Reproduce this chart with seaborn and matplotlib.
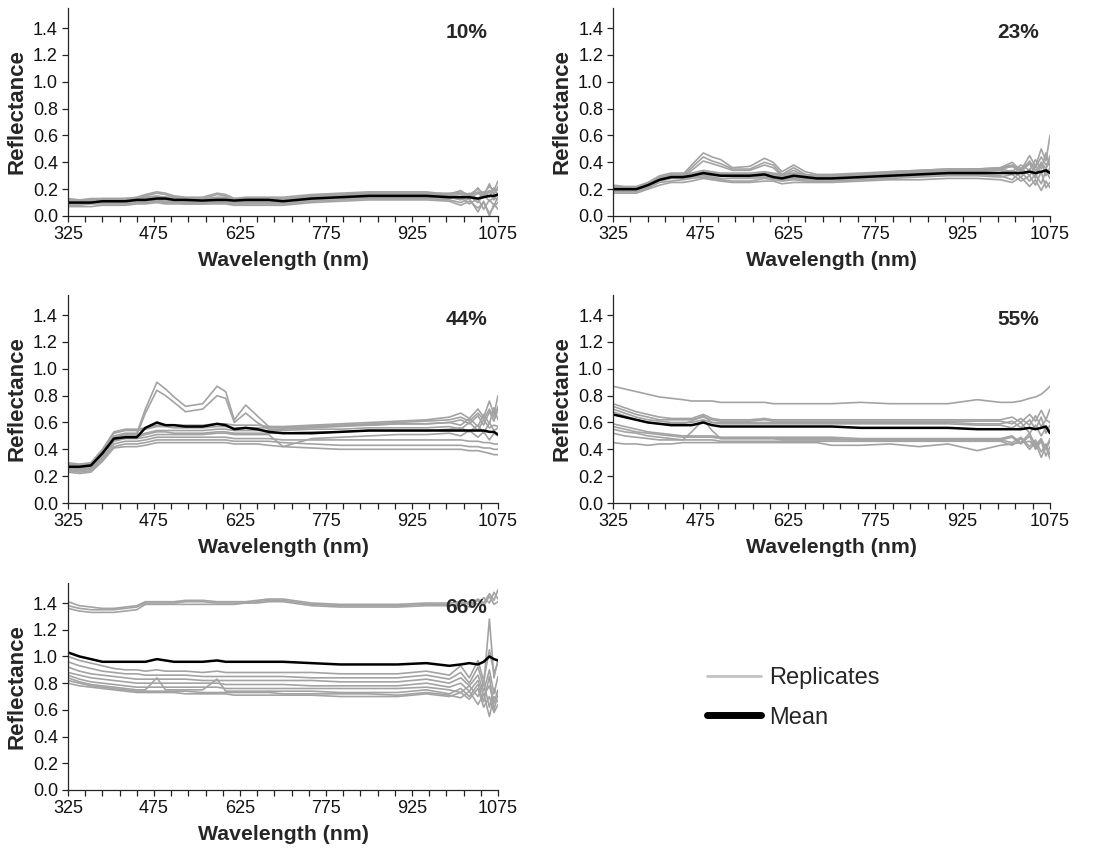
import matplotlib
matplotlib.use("Agg")
import matplotlib.pyplot as plt
import numpy as np
import pandas as pd
import seaborn as sns
from matplotlib.lines import Line2D
from matplotlib.ticker import FixedLocator, FormatStrFormatter

# ---------------- data ----------------
WAVELENGTH = [325, 345, 365, 385, 405, 425, 445, 460, 480, 495, 510, 530, 560, 585, 600,
              615, 635, 655, 675, 700, 750, 800, 850, 900, 950, 990, 1010, 1025, 1040,
              1050, 1060, 1068, 1075]

PANEL_LABELS = ["10%", "23%", "44%", "55%", "66%"]
XTICKS = [325, 475, 625, 775, 925, 1075]
YTICKS = [0.0, 0.2, 0.4, 0.6, 0.8, 1.0, 1.2, 1.4]

REP_10 = [
    [0.11,0.11,0.12,0.12,0.12,0.13,0.14,0.16,0.18,0.17,0.15,0.14,0.14,0.17,0.16,0.13,0.13,0.13,0.13,0.13,0.15,0.16,0.17,0.17,0.17,0.16,0.17,0.15,0.18,0.16,0.19,0.17,0.20],
    [0.10,0.11,0.11,0.12,0.12,0.12,0.13,0.15,0.17,0.16,0.14,0.13,0.13,0.16,0.15,0.12,0.12,0.12,0.12,0.12,0.14,0.15,0.16,0.16,0.16,0.15,0.13,0.17,0.12,0.18,0.14,0.21,0.15],
    [0.12,0.12,0.13,0.13,0.13,0.13,0.13,0.14,0.15,0.14,0.14,0.13,0.13,0.14,0.14,0.13,0.13,0.13,0.13,0.12,0.15,0.16,0.17,0.17,0.17,0.17,0.18,0.16,0.20,0.17,0.22,0.19,0.26],
    [0.11,0.11,0.11,0.12,0.12,0.12,0.12,0.13,0.14,0.13,0.13,0.12,0.12,0.13,0.13,0.12,0.12,0.12,0.12,0.12,0.14,0.15,0.16,0.16,0.16,0.15,0.16,0.13,0.17,0.14,0.18,0.12,0.17],
    [0.10,0.10,0.10,0.11,0.11,0.11,0.11,0.12,0.13,0.12,0.12,0.11,0.11,0.12,0.12,0.11,0.11,0.11,0.11,0.11,0.13,0.14,0.15,0.15,0.15,0.14,0.12,0.15,0.10,0.16,0.11,0.14,0.12],
    [0.09,0.09,0.10,0.10,0.10,0.10,0.11,0.11,0.12,0.11,0.11,0.10,0.10,0.11,0.11,0.10,0.10,0.10,0.10,0.10,0.12,0.13,0.14,0.14,0.14,0.13,0.14,0.09,0.13,0.05,0.12,0.08,0.14],
    [0.08,0.08,0.09,0.09,0.09,0.09,0.10,0.10,0.11,0.10,0.10,0.09,0.09,0.10,0.10,0.09,0.09,0.09,0.09,0.09,0.11,0.12,0.13,0.13,0.13,0.12,0.10,0.13,0.03,0.11,0.00,0.09,0.05],
    [0.07,0.07,0.07,0.08,0.08,0.08,0.09,0.09,0.10,0.09,0.09,0.09,0.09,0.09,0.09,0.08,0.08,0.08,0.08,0.08,0.10,0.11,0.12,0.12,0.12,0.11,0.08,0.11,0.06,0.10,0.02,0.07,0.10],
    [0.13,0.12,0.12,0.13,0.13,0.13,0.13,0.14,0.14,0.14,0.13,0.13,0.13,0.13,0.13,0.13,0.14,0.14,0.14,0.14,0.16,0.17,0.18,0.18,0.18,0.16,0.19,0.14,0.21,0.15,0.24,0.16,0.22],
]
MEAN_10 = [0.10,0.10,0.10,0.11,0.11,0.11,0.12,0.12,0.13,0.13,0.12,0.12,0.115,0.12,0.12,0.115,0.12,0.12,0.12,0.11,0.13,0.14,0.15,0.15,0.15,0.14,0.14,0.14,0.13,0.14,0.15,0.15,0.16]

REP_23 = [
    [0.21,0.20,0.21,0.24,0.28,0.30,0.31,0.38,0.47,0.44,0.42,0.36,0.37,0.43,0.40,0.33,0.38,0.33,0.31,0.31,0.32,0.33,0.34,0.35,0.35,0.36,0.38,0.35,0.40,0.36,0.44,0.38,0.42],
    [0.20,0.20,0.20,0.23,0.27,0.29,0.30,0.36,0.44,0.41,0.39,0.35,0.35,0.40,0.38,0.31,0.36,0.31,0.30,0.30,0.31,0.32,0.33,0.34,0.34,0.35,0.33,0.38,0.34,0.42,0.35,0.47,0.37],
    [0.22,0.21,0.21,0.24,0.28,0.30,0.30,0.34,0.41,0.39,0.37,0.34,0.34,0.38,0.36,0.30,0.34,0.30,0.29,0.29,0.31,0.32,0.33,0.34,0.34,0.35,0.37,0.33,0.39,0.31,0.40,0.35,0.45],
    [0.23,0.22,0.22,0.25,0.30,0.32,0.32,0.32,0.34,0.33,0.32,0.32,0.32,0.33,0.32,0.31,0.32,0.31,0.30,0.30,0.31,0.32,0.33,0.34,0.35,0.35,0.37,0.33,0.41,0.34,0.38,0.36,0.40],
    [0.21,0.21,0.21,0.24,0.28,0.30,0.30,0.31,0.32,0.31,0.31,0.30,0.30,0.31,0.30,0.29,0.30,0.29,0.29,0.29,0.30,0.31,0.32,0.33,0.33,0.34,0.31,0.36,0.30,0.38,0.32,0.35,0.33],
    [0.20,0.20,0.20,0.23,0.27,0.29,0.29,0.30,0.31,0.30,0.30,0.29,0.29,0.30,0.29,0.28,0.29,0.28,0.28,0.28,0.29,0.30,0.31,0.32,0.32,0.32,0.34,0.29,0.35,0.28,0.40,0.30,0.36],
    [0.19,0.19,0.19,0.22,0.26,0.28,0.28,0.29,0.30,0.29,0.28,0.28,0.28,0.29,0.28,0.27,0.28,0.27,0.27,0.27,0.28,0.29,0.30,0.31,0.31,0.30,0.27,0.33,0.26,0.31,0.24,0.34,0.28],
    [0.18,0.18,0.18,0.21,0.25,0.26,0.27,0.28,0.29,0.28,0.27,0.26,0.26,0.28,0.27,0.26,0.27,0.26,0.26,0.26,0.27,0.28,0.29,0.30,0.30,0.29,0.31,0.26,0.30,0.23,0.33,0.21,0.25],
    [0.17,0.17,0.17,0.20,0.23,0.25,0.25,0.26,0.28,0.27,0.26,0.25,0.25,0.26,0.26,0.24,0.25,0.25,0.25,0.25,0.26,0.27,0.27,0.28,0.28,0.27,0.25,0.29,0.22,0.27,0.19,0.26,0.21],
    [0.22,0.21,0.21,0.24,0.29,0.31,0.31,0.31,0.33,0.32,0.31,0.31,0.31,0.32,0.31,0.30,0.31,0.30,0.30,0.30,0.31,0.33,0.34,0.35,0.35,0.36,0.40,0.34,0.45,0.37,0.50,0.41,0.60],
]
MEAN_23 = [0.20,0.20,0.20,0.23,0.27,0.29,0.29,0.30,0.32,0.31,0.30,0.30,0.30,0.31,0.29,0.28,0.30,0.29,0.28,0.28,0.29,0.30,0.31,0.32,0.32,0.32,0.32,0.32,0.33,0.32,0.33,0.34,0.32]

REP_44 = [
    [0.29,0.28,0.29,0.38,0.50,0.52,0.52,0.70,0.90,0.85,0.79,0.72,0.74,0.87,0.83,0.62,0.73,0.65,0.57,0.56,0.57,0.58,0.59,0.60,0.61,0.62,0.64,0.61,0.67,0.62,0.70,0.64,0.72],
    [0.28,0.27,0.28,0.37,0.49,0.51,0.51,0.67,0.84,0.80,0.75,0.68,0.70,0.80,0.78,0.60,0.67,0.60,0.55,0.55,0.56,0.57,0.58,0.59,0.59,0.60,0.58,0.63,0.57,0.66,0.59,0.71,0.62],
    [0.30,0.29,0.30,0.40,0.53,0.55,0.55,0.56,0.58,0.58,0.58,0.58,0.58,0.59,0.59,0.58,0.58,0.58,0.57,0.57,0.58,0.59,0.60,0.61,0.62,0.64,0.67,0.63,0.70,0.64,0.76,0.66,0.80],
    [0.29,0.28,0.29,0.39,0.52,0.54,0.54,0.55,0.57,0.57,0.56,0.56,0.56,0.57,0.57,0.56,0.56,0.56,0.56,0.56,0.57,0.58,0.58,0.59,0.59,0.60,0.62,0.59,0.65,0.58,0.68,0.61,0.70],
    [0.27,0.26,0.27,0.36,0.48,0.50,0.50,0.52,0.54,0.54,0.54,0.54,0.54,0.55,0.55,0.54,0.54,0.54,0.54,0.54,0.55,0.55,0.56,0.56,0.56,0.57,0.55,0.60,0.54,0.62,0.56,0.58,0.57],
    [0.26,0.25,0.26,0.35,0.47,0.49,0.49,0.51,0.53,0.53,0.52,0.52,0.52,0.53,0.53,0.52,0.52,0.52,0.52,0.52,0.53,0.53,0.54,0.54,0.54,0.55,0.56,0.53,0.58,0.52,0.60,0.54,0.56],
    [0.26,0.25,0.26,0.34,0.46,0.48,0.48,0.49,0.51,0.51,0.51,0.51,0.51,0.52,0.52,0.51,0.51,0.51,0.51,0.42,0.48,0.49,0.50,0.51,0.51,0.52,0.50,0.54,0.49,0.53,0.47,0.52,0.50],
    [0.25,0.24,0.25,0.33,0.44,0.46,0.46,0.47,0.49,0.49,0.49,0.49,0.49,0.49,0.49,0.48,0.48,0.48,0.48,0.47,0.47,0.47,0.47,0.47,0.47,0.47,0.47,0.46,0.46,0.45,0.45,0.44,0.44],
    [0.24,0.23,0.24,0.32,0.42,0.44,0.44,0.45,0.47,0.47,0.47,0.47,0.47,0.47,0.47,0.46,0.46,0.46,0.46,0.45,0.44,0.43,0.43,0.43,0.43,0.43,0.43,0.42,0.42,0.41,0.41,0.40,0.40],
    [0.23,0.22,0.23,0.31,0.41,0.42,0.42,0.43,0.45,0.45,0.45,0.45,0.45,0.45,0.45,0.44,0.44,0.44,0.43,0.42,0.41,0.40,0.40,0.40,0.40,0.40,0.40,0.39,0.39,0.38,0.37,0.36,0.36],
]
MEAN_44 = [0.27,0.27,0.28,0.37,0.48,0.49,0.49,0.56,0.60,0.58,0.58,0.57,0.57,0.59,0.58,0.55,0.56,0.55,0.53,0.52,0.52,0.53,0.54,0.54,0.54,0.54,0.54,0.54,0.54,0.54,0.53,0.53,0.51]

REP_55 = [
    [0.87,0.85,0.83,0.81,0.79,0.78,0.77,0.76,0.76,0.76,0.75,0.75,0.75,0.75,0.74,0.74,0.74,0.74,0.74,0.74,0.75,0.74,0.74,0.74,0.77,0.75,0.75,0.76,0.78,0.79,0.81,0.84,0.87],
    [0.74,0.71,0.68,0.66,0.64,0.63,0.63,0.63,0.66,0.63,0.62,0.62,0.62,0.63,0.62,0.62,0.62,0.62,0.62,0.62,0.62,0.62,0.62,0.62,0.62,0.62,0.64,0.60,0.66,0.61,0.69,0.62,0.70],
    [0.72,0.69,0.66,0.64,0.62,0.62,0.62,0.62,0.64,0.62,0.61,0.61,0.61,0.62,0.61,0.61,0.61,0.61,0.61,0.61,0.61,0.61,0.61,0.61,0.61,0.61,0.59,0.63,0.58,0.65,0.57,0.62,0.60],
    [0.70,0.67,0.64,0.62,0.61,0.60,0.60,0.60,0.62,0.60,0.60,0.60,0.60,0.60,0.60,0.60,0.60,0.60,0.60,0.60,0.60,0.60,0.60,0.60,0.59,0.59,0.61,0.56,0.62,0.55,0.64,0.52,0.58],
    [0.68,0.65,0.62,0.60,0.59,0.59,0.59,0.61,0.65,0.60,0.59,0.59,0.59,0.59,0.59,0.59,0.59,0.59,0.59,0.59,0.59,0.59,0.59,0.59,0.58,0.58,0.56,0.60,0.52,0.58,0.50,0.56,0.54],
    [0.59,0.57,0.55,0.53,0.52,0.51,0.50,0.50,0.50,0.50,0.49,0.49,0.49,0.49,0.49,0.49,0.49,0.49,0.49,0.49,0.48,0.48,0.48,0.48,0.48,0.48,0.50,0.45,0.52,0.43,0.48,0.40,0.46],
    [0.57,0.55,0.53,0.52,0.51,0.50,0.49,0.49,0.49,0.49,0.48,0.48,0.48,0.48,0.48,0.48,0.48,0.48,0.48,0.48,0.47,0.47,0.47,0.47,0.47,0.47,0.45,0.49,0.42,0.47,0.38,0.44,0.36],
    [0.55,0.53,0.52,0.50,0.49,0.48,0.47,0.53,0.62,0.54,0.48,0.48,0.48,0.48,0.48,0.47,0.47,0.47,0.47,0.47,0.47,0.47,0.47,0.47,0.47,0.47,0.49,0.44,0.50,0.40,0.46,0.35,0.42],
    [0.52,0.50,0.49,0.48,0.47,0.47,0.47,0.47,0.47,0.47,0.46,0.46,0.46,0.46,0.46,0.46,0.46,0.46,0.46,0.46,0.46,0.46,0.46,0.46,0.46,0.46,0.43,0.48,0.40,0.45,0.34,0.42,0.33],
    [0.45,0.44,0.44,0.43,0.44,0.44,0.45,0.45,0.45,0.45,0.45,0.45,0.45,0.45,0.45,0.45,0.45,0.45,0.45,0.43,0.43,0.44,0.42,0.44,0.39,0.43,0.44,0.45,0.46,0.42,0.47,0.41,0.48],
]
MEAN_55 = [0.66,0.64,0.62,0.60,0.59,0.58,0.58,0.58,0.60,0.58,0.57,0.57,0.57,0.57,0.57,0.57,0.57,0.57,0.57,0.57,0.56,0.56,0.56,0.56,0.55,0.55,0.55,0.55,0.56,0.55,0.56,0.57,0.52]

REP_66 = [
    [1.41,1.38,1.37,1.36,1.36,1.37,1.38,1.41,1.41,1.41,1.41,1.42,1.42,1.41,1.41,1.41,1.41,1.42,1.43,1.43,1.40,1.39,1.39,1.39,1.40,1.40,1.41,1.39,1.43,1.40,1.47,1.42,1.50],
    [1.38,1.36,1.35,1.35,1.35,1.36,1.37,1.40,1.40,1.40,1.40,1.41,1.41,1.40,1.40,1.40,1.40,1.41,1.42,1.42,1.39,1.38,1.38,1.38,1.39,1.39,1.38,1.41,1.39,1.44,1.40,1.48,1.43],
    [1.36,1.34,1.33,1.33,1.33,1.34,1.35,1.39,1.39,1.39,1.39,1.39,1.39,1.39,1.39,1.39,1.40,1.40,1.41,1.41,1.38,1.37,1.37,1.37,1.38,1.38,1.40,1.37,1.42,1.38,1.45,1.39,1.41],
    [1.00,0.97,0.95,0.93,0.91,0.90,0.90,0.89,0.90,0.89,0.89,0.89,0.88,0.89,0.88,0.88,0.88,0.88,0.88,0.88,0.88,0.87,0.87,0.87,0.89,0.86,0.93,0.84,0.97,0.82,1.05,0.88,0.95],
    [0.96,0.93,0.91,0.89,0.88,0.87,0.87,0.86,0.86,0.86,0.86,0.86,0.85,0.85,0.85,0.85,0.85,0.85,0.85,0.85,0.84,0.84,0.84,0.84,0.86,0.83,0.88,0.80,0.92,0.78,1.28,0.84,0.98],
    [0.92,0.89,0.87,0.86,0.85,0.84,0.83,0.83,0.83,0.83,0.83,0.83,0.82,0.82,0.82,0.82,0.82,0.82,0.82,0.82,0.82,0.81,0.81,0.81,0.83,0.80,0.84,0.78,0.86,0.74,0.90,0.72,0.85],
    [0.88,0.86,0.84,0.83,0.82,0.81,0.80,0.80,0.80,0.80,0.80,0.80,0.80,0.80,0.79,0.79,0.79,0.79,0.79,0.79,0.78,0.78,0.78,0.78,0.80,0.77,0.80,0.74,0.82,0.71,0.78,0.65,0.75],
    [0.86,0.83,0.81,0.80,0.79,0.78,0.77,0.77,0.77,0.77,0.77,0.77,0.77,0.77,0.76,0.76,0.76,0.76,0.76,0.76,0.76,0.76,0.76,0.76,0.77,0.75,0.73,0.78,0.70,0.80,0.62,0.76,0.70],
    [0.84,0.81,0.79,0.78,0.77,0.76,0.75,0.75,0.84,0.75,0.75,0.75,0.75,0.83,0.74,0.74,0.74,0.74,0.74,0.74,0.74,0.73,0.73,0.73,0.75,0.72,0.76,0.70,0.79,0.66,0.85,0.60,0.72],
    [0.82,0.80,0.78,0.77,0.76,0.75,0.74,0.74,0.74,0.74,0.74,0.74,0.73,0.73,0.73,0.73,0.73,0.73,0.73,0.72,0.72,0.72,0.72,0.71,0.73,0.71,0.69,0.74,0.64,0.72,0.55,0.70,0.66],
    [0.80,0.78,0.77,0.76,0.75,0.74,0.73,0.73,0.73,0.73,0.73,0.72,0.72,0.72,0.72,0.71,0.71,0.71,0.71,0.71,0.71,0.70,0.70,0.70,0.72,0.70,0.73,0.68,0.76,0.62,0.70,0.58,0.64],
]
MEAN_66 = [1.03,1.00,0.98,0.96,0.96,0.96,0.96,0.96,0.98,0.97,0.96,0.96,0.96,0.97,0.96,0.96,0.96,0.96,0.96,0.96,0.95,0.94,0.94,0.94,0.95,0.93,0.94,0.95,0.94,0.96,1.00,0.98,0.97]

REPLICATES = [REP_10, REP_23, REP_44, REP_55, REP_66]
MEANS = [MEAN_10, MEAN_23, MEAN_44, MEAN_55, MEAN_66]

# ---------------- style ----------------
sns.set_style("ticks")
plt.rcParams["font.family"] = ["Liberation Sans", "DejaVu Sans"]
plt.rcParams["axes.linewidth"] = 0.9

REP_COLOR = "#a3a3a3"
W, H = 1093, 852
fig = plt.figure(figsize=(W / 100, H / 100), dpi=100)

# axes boxes in pixels: (left, top, right, bottom)
boxes = [(68, 8, 498, 216), (613, 8, 1050, 216),
         (68, 295, 498, 503), (613, 295, 1050, 503),
         (68, 583, 498, 790)]

for k, (l, t, r, b) in enumerate(boxes):
    ax = fig.add_axes([l / W, 1 - b / H, (r - l) / W, (b - t) / H])
    rows = []
    for i, rep in enumerate(REPLICATES[k]):
        for wl, v in zip(WAVELENGTH, rep):
            rows.append({"wl": wl, "refl": v, "rep": i})
    df = pd.DataFrame(rows)
    sns.lineplot(data=df, x="wl", y="refl", units="rep", estimator=None,
                 color=REP_COLOR, lw=1.2, ax=ax, legend=False)
    sns.lineplot(x=WAVELENGTH, y=MEANS[k], color="black", lw=1.8, ax=ax)

    ax.set_xlim(325, 1075)
    ax.set_ylim(0, 1.55)
    ax.set_xticks(XTICKS)
    ax.xaxis.set_minor_locator(FixedLocator(list(range(325, 1076, 30))))
    ax.set_yticks(YTICKS)
    ax.yaxis.set_major_formatter(FormatStrFormatter("%.1f"))
    ax.tick_params(axis="both", which="both", direction="out", length=4,
                   width=0.9, labelsize=13, colors="#222222", pad=3.2)
    ax.tick_params(axis="both", labelcolor="#111111")
    sns.despine(ax=ax)
    ax.set_xlabel("Wavelength (nm)", fontsize=15.3, fontweight="bold", labelpad=6)
    ax.set_ylabel("Reflectance", fontsize=16, fontweight="bold", labelpad=4)
    ax.text(0.975, 0.88, PANEL_LABELS[k], transform=ax.transAxes, ha="right",
            va="center", fontsize=15, fontweight="bold")

handles = [Line2D([], [], color="#c2c2c2", lw=2.0),
           Line2D([], [], color="black", lw=5, solid_capstyle="round")]
fig.legend(handles, ["Replicates", "Mean"], loc="upper left",
           bbox_to_anchor=(707 / W, 1 - 667 / H), frameon=False, fontsize=17,
           handlelength=2.3, handletextpad=0.35, labelspacing=0.75,
           borderpad=0, borderaxespad=0)

fig.savefig("out.png", dpi=100)
